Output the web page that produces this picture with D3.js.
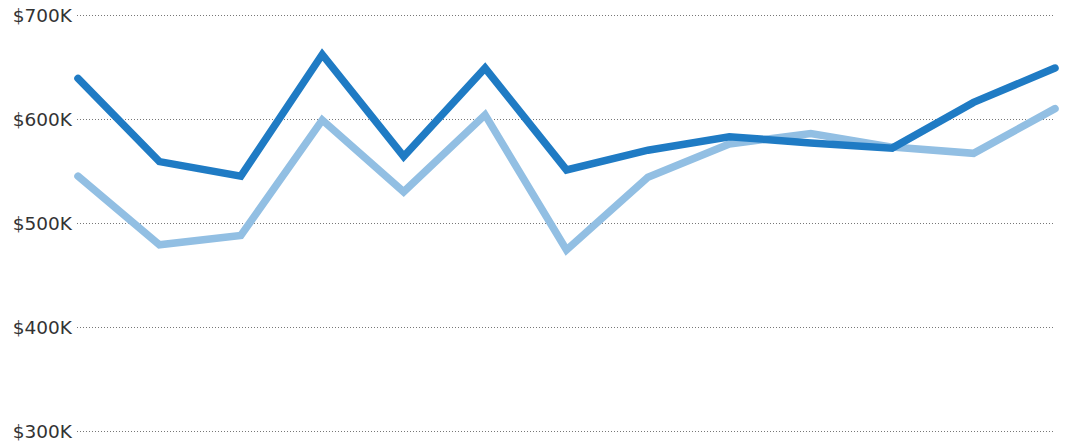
<!DOCTYPE html>
<html><head><meta charset="utf-8">
<script src="https://cdn.jsdelivr.net/npm/d3@7"></script>
<style>body{margin:0;background:#fff}</style></head>
<body><svg id="c" width="1065" height="443"></svg>
<script>
const periods = d3.range(1,14);
const seriesA = [639,559,545,662,564,649,551,570,583,577,572,616,649];
const seriesB = [545,479,488,599,530,604,474,544,576,586,573,567,610];
const ticks = [300000,400000,500000,600000,700000];
const svg = d3.select("#c");
const x = d3.scalePoint().domain(periods).range([78,1055]);
const y = d3.scaleLinear().domain([300000,700000]).range([431,15]);
const g = svg.append("g");
ticks.forEach(t=>{
  g.append("line").attr("x1",77).attr("x2",1055).attr("y1",y(t)+0.5).attr("y2",y(t)+0.5)
   .attr("stroke","#777").attr("stroke-width",1).attr("stroke-dasharray","1,2");
  g.append("text").attr("x",72).attr("y",y(t)).attr("dy","0.36em").attr("text-anchor","end")
   .text("$"+(t/1000)+"K")
   .attr("font-family","DejaVu Sans, sans-serif").attr("font-size",18.5).attr("fill","#333");
});
const line = d3.line().x((d,i)=>x(periods[i])).y(d=>y(d*1000));
svg.append("path").datum(seriesB).attr("d",line).attr("fill","none")
  .attr("stroke","#92bfe3").attr("stroke-width",7.5).attr("stroke-linecap","round");
svg.append("path").datum(seriesA).attr("d",line).attr("fill","none")
  .attr("stroke","#1f7bc4").attr("stroke-width",7.5).attr("stroke-linecap","round");
</script></body></html>
